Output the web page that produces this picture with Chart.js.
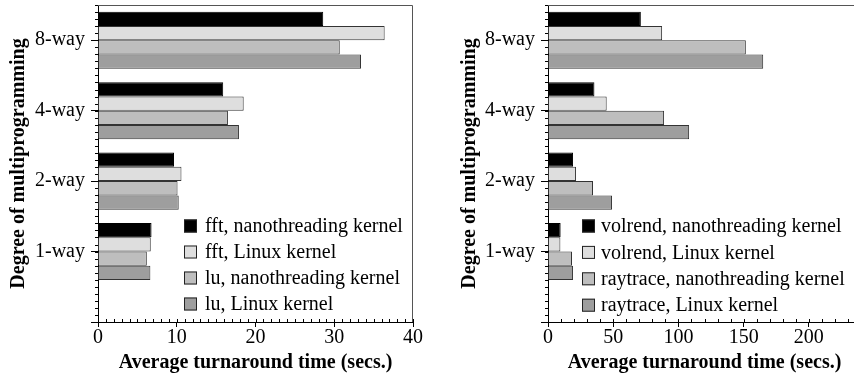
<!DOCTYPE html>
<html><head><meta charset="utf-8">
<script src="https://cdn.jsdelivr.net/npm/chart.js@4.4.0/dist/chart.umd.min.js"></script>
<style>
html,body{margin:0;padding:0;background:#fff;overflow:hidden;width:854px;height:375px;position:relative;}
canvas{position:absolute;top:0;}
#c1{left:0;}
#c2{left:430px;}
</style></head><body>
<canvas id="c1" width="430" height="375"></canvas>
<canvas id="c2" width="450" height="375"></canvas>
<script>
// ---- data (ordered 1-way, 2-way, 4-way, 8-way) ----
const categories = ['1-way', '2-way', '4-way', '8-way'];
const leftNames = ['fft, nanothreading kernel', 'fft, Linux kernel', 'lu, nanothreading kernel', 'lu, Linux kernel'];
const fftNano  = [6.8, 9.65, 15.9, 28.6];
const fftLinux = [6.7, 10.6, 18.5, 36.4];
const luNano   = [6.2, 10.1, 16.5, 30.7];
const luLinux  = [6.65, 10.25, 17.9, 33.4];
const rightNames = ['volrend, nanothreading kernel', 'volrend, Linux kernel', 'raytrace, nanothreading kernel', 'raytrace, Linux kernel'];
const volNano  = [9.7, 19.2, 35.6, 71.2];
const volLinux = [9.5, 21.5, 45.0, 87.5];
const rayNano  = [18.4, 34.5, 89.0, 151.7];
const rayLinux = [19.2, 49.1, 108.2, 165.0];
const leftXTicks = [0, 10, 20, 30, 40];
const rightXTicks = [0, 50, 100, 150, 200];
const xTitle = 'Average turnaround time (secs.)';
const yTitle = 'Degree of multiprogramming';

const fills = ['#000000', '#dedede', '#bebebe', '#9e9e9e'];
const FONT = "'Liberation Serif', 'Times New Roman', serif";
Chart.defaults.font.family = FONT;
Chart.defaults.font.size = 20;
Chart.defaults.color = '#000';

const decor = {
  id: 'decor',
  afterDraw(chart, args, o) {
    const ctx = chart.ctx, a = chart.chartArea, xs = chart.scales.x, ys = chart.scales.y;
    ctx.save();
    ctx.lineWidth = 1;
    // frame (top, right)
    ctx.strokeStyle = '#555';
    ctx.beginPath();
    ctx.moveTo(a.left, a.top + 0.5);
    ctx.lineTo(a.right - 0.5, a.top + 0.5);
    ctx.lineTo(a.right - 0.5, a.bottom);
    ctx.stroke();
    // minor ticks
    ctx.strokeStyle = '#000';
    ctx.beginPath();
    const nx = Math.round((xs.max - xs.min) / o.xMinor);
    for (let k = 0; k <= nx; k++) {
      const px = Math.round(xs.getPixelForValue(xs.min + k * o.xMinor)) + 0.5;
      ctx.moveTo(px, a.bottom); ctx.lineTo(px, a.bottom - 3);
    }
    const ny = Math.round((ys.max - ys.min) / 0.1);
    for (let k = 0; k <= ny; k++) {
      const py = Math.round(ys.getPixelForValue(ys.min + k * 0.1)) + 0.5;
      ctx.moveTo(a.left, py); ctx.lineTo(a.left - 3, py);
    }
    ctx.stroke();
    // legend
    ctx.font = "20px " + FONT;
    ctx.textBaseline = 'middle';
    ctx.textAlign = 'left';
    chart.data.datasets.forEach((ds, i) => {
      const cy = o.legY + i * o.legStep;
      ctx.fillStyle = ds.backgroundColor;
      ctx.fillRect(o.boxX, cy - 6.5, 13, 13);
      ctx.strokeStyle = '#222';
      ctx.strokeRect(o.boxX + 0.5, cy - 6, 12, 12);
      ctx.fillStyle = '#000';
      ctx.fillText(ds.label, o.textX, cy + 1);
    });
    ctx.restore();
  }
};

function makeChart(id, names, series, xMax, xStep, xMinor, majors, lay) {
  const datasets = names.map((n, i) => ({
    label: n,
    data: series[i].map((v, j) => ({ x: v, y: j + 1 })),
    backgroundColor: fills[i],
    borderColor: i === 0 ? '#000' : '#333',
    borderWidth: 1,
    categoryPercentage: 0.81,
    barPercentage: 1.0
  }));
  return new Chart(document.getElementById(id), {
    type: 'bar',
    data: { datasets },
    options: {
      indexAxis: 'y',
      responsive: false,
      animation: false,
      events: [],
      layout: { padding: { left: 0, top: 5, right: lay.padRight, bottom: 0 } },
      plugins: {
        legend: { display: false },
        tooltip: { enabled: false },
        decor: { xMinor, boxX: lay.boxX, textX: lay.textX, legY: lay.legY, legStep: lay.legStep }
      },
      scales: {
        x: {
          type: 'linear', min: 0, max: xMax, offset: false,
          afterBuildTicks: s => { s.ticks = majors.map(v => ({ value: v })); },
          afterFit: s => { s.height = 53; s.paddingLeft = 0; s.paddingRight = 0; },
          ticks: { padding: -1, font: { size: 20 }, color: '#000' },
          grid: { offset: false, drawOnChartArea: false, drawTicks: true, tickLength: 5, color: '#000' },
          border: { display: true, color: '#000', width: 1 },
          title: { display: true, text: xTitle, font: { size: 20, weight: 'bold' }, color: '#000', padding: { top: 0, bottom: 0 } }
        },
        y: {
          type: 'linear', min: 0, max: 4.5, offset: false,
          afterBuildTicks: s => { s.ticks = [0, 1, 2, 3, 4].map(v => ({ value: v })); },
          afterFit: s => { s.width = lay.yWidth; s.paddingTop = 0; s.paddingBottom = 0; },
          ticks: { padding: 6, font: { size: 20 }, color: '#000', callback: v => (v >= 1 && v <= categories.length) ? categories[v - 1] : '' },
          grid: { offset: false, drawOnChartArea: false, drawTicks: true, tickLength: 7, color: '#000' },
          border: { display: true, color: '#000', width: 1 },
          title: { display: true, text: yTitle, font: { size: 20, weight: 'bold' }, color: '#000', padding: { top: lay.titlePad, bottom: 0 } }
        }
      }
    },
    plugins: [decor]
  });
}

makeChart('c1', leftNames, [fftNano, fftLinux, luNano, luLinux], 40, 10, 1, leftXTicks,
  { padRight: 17, yWidth: 98, titlePad: 7, boxX: 184, textX: 205, legY: 226, legStep: 26 });
makeChart('c2', rightNames, [volNano, volLinux, rayNano, rayLinux], 240, 50, 10, rightXTicks,
  { padRight: 19, yWidth: 118, titlePad: 28, boxX: 152, textX: 171, legY: 226, legStep: 26.4 });
</script>
</body></html>
